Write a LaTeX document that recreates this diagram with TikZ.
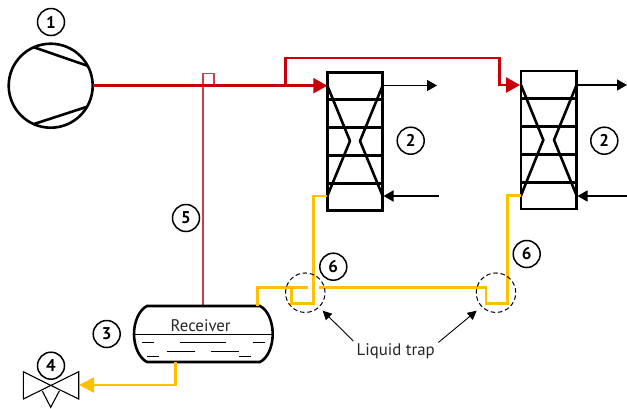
\documentclass[tikz,border=0pt]{standalone}
\usepackage{fontspec}
\setmainfont{PT Sans}
\usetikzlibrary{arrows.meta}
\definecolor{hotred}{HTML}{C8000A}
\definecolor{liq}{HTML}{FFC000}
\definecolor{thinred}{HTML}{C8404A}
\tikzset{
 x=1pt,y=-1pt,
 badge/.style={circle,draw=black,line width=1.5pt,minimum size=27pt,inner sep=0pt,fill=white,font=\fontsize{17}{17}\selectfont\bfseries},
 lbltxt/.style={inner sep=0pt,text=black!85,font=\fontsize{16.8}{17}\selectfont},
 hx/.style={draw=black,line width=2.6pt,rectangle,minimum width=55.5pt,minimum height=138pt,inner sep=0pt,outer sep=0pt},
 blk/.style={draw=black,line width=2.6pt,line join=round},
 hot/.style={draw=hotred,line width=2.6pt},
 liqline/.style={draw=liq,line width=2.6pt},
 hottip/.style={-{Triangle[length=14pt,width=15pt,fill=hotred]}},
 liqtip/.style={-{Triangle[length=15pt,width=15pt,fill=liq]}},
 thinarrow/.style={draw=black,line width=1.4pt,-{Triangle[length=10pt,width=11pt]}},
 leader/.style={draw=black,line width=0.9pt,-{Triangle[length=9pt,width=9pt]}},
 trap/.style={circle,draw=black,dash pattern=on 4.5pt off 2.8pt,line width=1pt,minimum size=39.5pt,inner sep=0pt},
 liqdash/.style={draw=black,line width=1pt},
}
\begin{document}
\begin{tikzpicture}
\useasboundingbox (0,0) rectangle (627,408);
% named points
\node[circle,draw=black,line width=2.6pt,minimum size=84pt,inner sep=0pt,outer sep=0pt] (comp) at (50.7,85.7) {};
\node[hx] (hxa) at (355,141.2) {};
\node[hx] (hxb) at (548.8,139.8) {};
\coordinate (cin1) at (327.3,85.7);
\coordinate (cin2) at (520,85);
\coordinate (tee) at (285.5,85.7);
\coordinate (rt) at (203,306);
\coordinate (rb) at (175.7,362);
\coordinate (rl) at (257.7,306);
% compressor chords
\draw[blk] (34,47.3) -- (87.3,65.7);
\draw[blk] (34,124) -- (87.3,106.7);
% thin red line
\draw[draw=thinred,line width=1.1pt] (rt) -- (203,73.3) -- (214,73.3) -- (214,85.7);
% hot gas
\draw[hot,hottip] (comp.east) -- (cin1);
\draw[hot,hottip] (tee) -- (285.5,58) -- (499.5,58) -- (499.5,85) -- (cin2);
% heat exchanger internals
\foreach \y in {99.5,127.5,155.5,183.5} \draw[blk] (hxa.west |- 0,\y) -- (hxa.east |- 0,\y);
\draw[blk] (327.3,85.5) -- (350,141) -- (327.3,196);
\draw[blk] (382.7,85.5) -- (360,141) -- (382.7,196);
\foreach \y in {98.5,126.5,154.5,182.5} \draw[blk] (hxb.west |- 0,\y) -- (hxb.east |- 0,\y);
\draw[blk] (521,85) -- (543.3,140) -- (521,195.5);
\draw[blk] (576.6,85) -- (554,140) -- (576.6,195.5);
% air arrows
\coordinate (oa) at (437,85.5);
\coordinate (ia) at (438.5,196);
\coordinate (ob) at (627,85);
\coordinate (ib) at (627,196);
\draw[thinarrow] (382.7,85.5) -- (oa);
\draw[thinarrow] (ia) -- (383.5,196);
\draw[thinarrow] (576.6,85) -- (ob);
\draw[thinarrow] (ib) -- (577.5,196);
% receiver
\draw[draw=black,line width=2.6pt] (147,306) -- (260,306) .. controls (268,310) and (272.7,322) .. (272.7,334) .. controls (272.7,346) and (268,358) .. (260,362) -- (147,362) .. controls (139,358) and (134,346) .. (134,334) .. controls (134,322) and (139,310) .. (147,306) -- cycle;
\draw[draw=black,line width=1pt] (134,334) -- (272.7,334);
\foreach \a/\b/\y in {142/154/342.3,180/225.7/342.3,252.7/264.7/342.3,166.7/195/351,210.7/239.3/351,147.3/159.3/356,239/251/356}
  \draw[liqdash] (\a,\y) -- (\b,\y);
\node[lbltxt] (rtxt) at (200.7,326) {Receiver};
% valve
\coordinate (vc) at (51,385.5);
\draw[draw=black,line width=1.1pt,line join=miter] (vc) -- (23.3,371.7) -- (23.3,399) -- (78.7,371.7) -- (78.7,399) -- cycle;
\draw[draw=black,line width=1.1pt] (42.3,391) -- (50.7,407.3) -- (59.3,391);
% liquid lines
\draw[liqline,liqtip] (rb) -- (175.7,385) -- (79,385);
\draw[liqline] (rl) -- (257.7,287.3) -- (307.7,287.3);
\draw[liqline] (291.7,287.3) -- (291.7,303.3) -- (313.3,303.3) -- (313.3,196) -- (327.3,196);
\draw[liqline] (319.3,287.3) -- (486,287.3) -- (486,303.3) -- (507.3,303.3) -- (507.3,195.7) -- (521,195.7);
% traps
\node[trap] (t1) at (305.3,292.7) {};
\node[trap] (t2) at (496,292.7) {};
\node[lbltxt] (lt) at (395.7,351.7) {Liquid trap};
\coordinate (l1) at (353.3,341);
\coordinate (l2) at (438.3,342.5);
\draw[leader] (l1) -- (322.7,310.7);
\draw[leader] (l2) -- (476.7,310.7);
% badges
\node[badge] (b1) at (51,22) {1};
\node[badge] (b2a) at (410.7,140.7) {2};
\node[badge] (b2b) at (604.3,140.7) {2};
\node[badge] (b3) at (106.7,334) {3};
\node[badge] (b4) at (51,365.7) {4};
\node[badge] (b5) at (186,218) {5};
\node[badge] (b6a) at (333.3,266.7) {6};
\node[badge] (b6b) at (526.7,254) {6};
\end{tikzpicture}
\end{document}
